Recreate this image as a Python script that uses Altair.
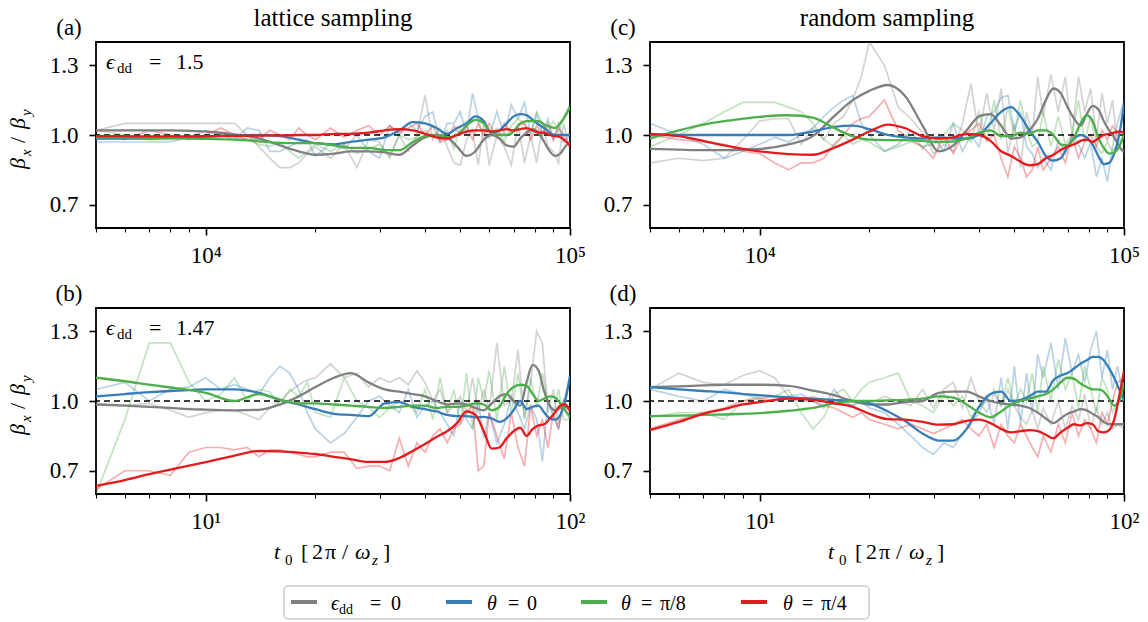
import altair as alt
import pandas as pd

# ---------------- data ----------------
SERIES_KEYS = ["s0", "s1", "s2", "s3"]          # eps_dd=0, theta=0, theta=pi/8, theta=pi/4
SERIES_COLORS = ["#808080", "#377eb8", "#4daf4a", "#e41a1c"]

TOP_RAW_T = [5000, 6000, 7000, 8000, 9000, 10000, 11000, 12000, 13000, 14000, 15000, 16000,
             17000, 18000, 19000, 20000,
             22000, 24000, 26000, 28000, 30000, 32000, 34000, 36000, 38000, 40000, 42000, 44000,
             46000, 48000, 50000, 52000, 54000, 56000, 58000, 60000,
             63000, 66000, 69000, 72000, 75000, 78000, 81000, 84000, 87000, 90000, 93000, 96000,
             100000]
BOT_RAW_T = [5, 6, 7, 8, 9, 10, 11, 12, 13, 14, 15, 16, 17, 18, 19, 20,
             22, 24, 26, 28, 30, 32, 34, 36, 38, 40, 42, 44, 46, 48, 50, 52, 54, 56, 58, 60,
             63, 66, 69, 72, 75, 78, 81, 84, 87, 90, 93, 96,
             100]
TOP_SMOOTH_T = [5000, 6000, 7000, 8000, 9000, 10000, 12000, 14000, 16000, 18000, 20000,
                22500, 25000, 28000,
                31000, 34000, 37000, 40000, 43000, 46000, 49000, 52000, 55000, 58000, 61000, 64000,
                67000, 70000, 73000, 76000, 79000, 82000, 85000, 88000, 91000, 94000, 97000, 100000]
BOT_SMOOTH_T = [5, 6, 7, 8, 9, 10, 12, 14, 16, 18, 20,
                22.5, 25, 28,
                31, 34, 37, 40, 43, 46, 49, 52, 55, 58, 61, 64,
                67, 70, 73, 76, 79, 82, 85, 88, 91, 94, 97, 100]

# ----- panel (a): lattice sampling, eps_dd = 1.5 -----
A_RAW_EPS0 = [1.02, 1.05, 1.05, 1.05, 1.05, 1.05, 1.05, 1.05, 1.0, 0.95, 0.90, 0.86, 0.86, 0.88, 0.92, 0.95,
              0.90, 0.96, 0.86, 0.98, 0.97, 0.90, 1.0, 0.93, 1.0, 1.17, 0.98, 1.03, 0.95, 0.88, 0.87, 0.98, 1.02, 0.87, 1.05, 0.87,
              1.0, 0.95, 0.87, 1.05, 0.88, 1.0, 0.88, 1.05, 0.95, 0.93, 0.88, 1.05,
              0.93]
A_RAW_TH0 = [0.97, 0.97, 0.97, 0.97, 0.99, 1.02, 1.0, 0.98, 1.03, 1.02, 0.93, 0.93, 0.95, 0.97, 0.98, 0.91,
             0.96, 0.94, 1.0, 0.93, 0.90, 1.04, 1.0, 1.05, 1.02, 1.08, 1.1, 0.97, 1.05, 1.05, 1.10, 1.0, 1.18, 1.07, 1.05, 0.99,
             1.1, 1.0, 1.13, 1.07, 1.14, 1.0, 1.09, 1.0, 1.07, 0.98, 1.05, 0.97,
             1.0]
A_RAW_TH8 = [1.02, 1.0, 0.98, 0.98, 0.99, 0.99, 1.0, 0.99, 0.98, 0.96, 0.95, 0.97, 0.93, 0.90, 0.93, 0.96,
             0.93, 0.96, 0.92, 0.94, 0.96, 0.91, 1.0, 0.98, 0.99, 1.02, 1.0, 0.98, 1.02, 0.94, 1.03, 1.06, 1.06, 1.07, 0.98, 1.0,
             1.03, 0.97, 1.04, 1.07, 1.05, 1.01, 1.1, 1.05, 1.02, 1.06, 1.01, 1.08,
             1.13]
A_RAW_TH4 = [1.0, 0.98, 1.02, 1.0, 0.98, 1.0, 1.03, 1.0, 0.98, 0.98, 1.02, 1.0, 0.98, 1.03, 1.0, 0.98,
             1.03, 0.99, 1.02, 1.04, 1.0, 1.04, 1.01, 1.03, 1.05, 1.0, 1.04, 0.97, 0.98, 1.04, 1.0, 1.04, 0.98, 1.05, 1.0, 1.05,
             0.99, 1.05, 1.01, 1.04, 1.05, 0.98, 1.04, 1.0, 1.05, 0.98, 1.03, 1.0,
             0.95]
A_SM_EPS0 = [1.02, 1.02, 1.02, 1.02, 1.018, 1.015, 1.003, 0.985, 0.955, 0.93, 0.915,
             0.92, 0.93, 0.93,
             0.925, 0.915, 0.955, 0.99, 1.0, 0.99, 0.95, 0.91, 0.93, 0.98, 1.0, 0.985,
             0.955, 0.95, 0.985, 1.01, 1.025, 1.01, 0.97, 0.93, 0.91, 0.92, 0.95, 0.97]
A_SM_TH0 = [0.985, 0.985, 0.985, 0.988, 0.99, 0.993, 0.998, 1.0, 0.995, 0.98, 0.965,
            0.96, 0.97, 0.98,
            0.99, 1.02, 1.055, 1.05, 1.03, 1.005, 1.03, 1.05, 1.08, 1.06, 1.005, 1.02,
            1.05, 1.08, 1.09, 1.085, 1.065, 1.045, 1.03, 1.01, 1.0, 1.0, 1.0, 1.0]
A_SM_TH8 = [0.99, 0.99, 0.988, 0.986, 0.985, 0.983, 0.98, 0.973, 0.966, 0.965, 0.965,
            0.955, 0.945, 0.945,
            0.935, 0.935, 0.97, 0.995, 1.0, 0.99, 1.0, 1.04, 1.065, 1.05, 1.01, 1.0,
            1.0, 1.015, 1.05, 1.06, 1.06, 1.06, 1.045, 1.035, 1.03, 1.05, 1.08, 1.12]
A_SM_TH4 = [0.995, 0.995, 0.994, 0.994, 0.994, 0.995, 0.996, 0.997, 0.998, 1.0, 1.0,
            1.005, 1.005, 1.01,
            1.02, 1.025, 1.02, 1.005, 0.99, 0.985, 1.0, 1.015, 1.02, 1.02, 1.015, 1.02,
            1.025, 1.02, 1.025, 1.03, 1.02, 1.01, 1.01, 1.0, 0.995, 0.99, 0.975, 0.955]

# ----- panel (c): random sampling, eps_dd = 1.5 -----
C_RAW_EPS0 = [0.88, 0.90, 0.89, 0.90, 0.98, 1.06, 1.07, 1.07, 0.96, 1.03, 0.98, 1.05, 1.08, 1.15, 1.25, 1.40,
              1.30, 1.12, 1.07, 1.01, 0.92, 0.96, 0.93, 1.05, 1.22, 1.0, 1.18, 1.02, 1.2, 0.92, 1.05, 0.86, 1.1, 1.0, 1.25, 1.08,
              1.26, 1.1, 1.25, 1.0, 1.25, 1.1, 1.2, 0.98, 1.18, 1.05, 1.15, 0.95,
              0.92]
C_RAW_TH0 = [1.05, 1.0, 0.96, 0.9, 0.93, 0.96, 0.99, 0.97, 1.0, 1.03, 1.08, 1.12, 1.15, 1.17, 1.05, 1.0,
             0.93, 0.96, 1.02, 0.94, 0.99, 0.93, 1.05, 0.93, 1.0, 0.95, 1.08, 1.1, 1.16, 1.17, 1.02, 1.1, 0.95, 0.92, 0.86, 0.9,
             0.85, 0.98, 0.92, 1.0, 0.96, 0.9, 0.97, 0.82, 0.9, 0.8, 0.95, 1.05,
             1.15]
C_RAW_TH8 = [0.95, 1.0, 1.05, 1.1, 1.14, 1.14, 1.14, 1.12, 1.1, 1.05, 0.98, 0.95, 1.0, 0.96, 0.98, 0.97,
             0.93, 0.95, 0.97, 0.95, 0.96, 1.0, 1.05, 1.02, 0.97, 1.1, 0.97, 1.15, 0.98, 1.12, 1.0, 1.15, 1.02, 0.95, 0.97, 1.1,
             0.95, 1.08, 0.96, 1.0, 1.15, 0.97, 1.08, 0.95, 0.92, 0.97, 0.93, 0.96,
             1.0]
C_RAW_TH4 = [1.0, 0.98, 0.97, 0.96, 0.93, 0.92, 0.88, 0.85, 0.88, 0.88, 0.9, 0.96, 1.0, 1.05, 1.07, 1.08,
             1.15, 1.02, 0.98, 0.95, 0.9, 1.0, 0.92, 1.0, 1.02, 1.05, 0.98, 1.0, 0.9, 0.82, 0.95, 0.9, 0.82, 0.85, 0.95, 0.85,
             0.9, 0.95, 0.88, 1.0, 0.9, 0.97, 1.0, 0.95, 1.02, 0.98, 1.04, 1.0,
             1.0]
C_SM_EPS0 = [0.94, 0.937, 0.935, 0.935, 0.937, 0.94, 0.96, 0.995, 1.08, 1.15, 1.19,
             1.215, 1.17, 1.04,
             0.93, 0.955, 1.02, 1.08, 1.09, 1.04, 0.985, 0.99, 1.02, 1.07, 1.15, 1.2,
             1.18, 1.12, 1.07, 1.04, 1.09, 1.125, 1.11, 1.06, 1.02, 0.99, 0.95, 0.93]
C_SM_TH0 = [1.0, 1.0, 1.0, 1.0, 1.0, 1.0, 1.0, 1.015, 1.035, 1.04, 1.025,
            1.0, 0.99, 0.985,
            0.99, 0.985, 0.985, 1.0, 1.05, 1.1, 1.12, 1.08, 1.02, 0.97, 0.91, 0.89,
            0.9, 0.95, 0.985, 1.0, 0.99, 0.96, 0.91, 0.875, 0.88, 0.92, 1.0, 1.13]
C_SM_TH8 = [0.985, 1.02, 1.045, 1.06, 1.07, 1.078, 1.085, 1.075, 1.03, 0.995, 0.98,
            0.978, 0.978, 0.975,
            0.97, 0.972, 0.985, 1.01, 1.02, 0.995, 0.995, 1.01, 1.005, 1.02, 1.02, 1.0,
            0.96, 0.955, 0.99, 1.05, 1.085, 1.06, 0.99, 0.945, 0.92, 0.925, 0.95, 1.0]
C_SM_TH4 = [1.005, 0.995, 0.975, 0.955, 0.94, 0.93, 0.918, 0.915, 0.945, 0.98, 1.015,
            1.045, 1.03, 0.995,
            0.985, 0.99, 1.005, 1.0, 0.975, 0.93, 0.91, 0.885, 0.87, 0.875, 0.9, 0.915,
            0.935, 0.95, 0.96, 0.975, 0.98, 0.97, 0.985, 1.0, 1.005, 1.01, 1.015, 1.01]

# ----- panel (b): lattice sampling, eps_dd = 1.47 -----
B_RAW_EPS0 = [0.99, 0.98, 0.99, 0.96, 0.93, 0.95, 0.96, 0.96, 0.94, 0.92, 0.97, 1.0, 1.04, 1.07, 1.09, 1.1,
              1.16, 1.1, 1.12, 1.06, 1.1, 1.08, 1.1, 1.07, 1.13, 1.08, 1.0, 1.05, 0.95, 0.98, 1.02, 0.95, 1.1, 0.95, 1.05, 0.96,
              1.25, 0.98, 1.0, 1.22, 0.92, 1.08, 1.3, 1.25, 0.95, 1.05, 0.9, 1.0,
              0.95]
B_RAW_TH0 = [1.05, 1.08, 1.0, 1.05, 1.06, 1.1, 1.05, 1.07, 1.05, 1.03, 1.1, 1.15, 1.12, 1.05, 0.95, 0.88,
             0.82, 0.86, 0.93, 1.0, 1.02, 0.98, 0.95, 1.05, 0.93, 0.98, 1.0, 0.95, 0.9, 0.85, 1.0, 0.92, 0.88, 1.0, 0.84, 0.95,
             0.82, 0.9, 1.02, 0.95, 0.88, 0.98, 0.92, 0.74, 1.0, 0.93, 0.88, 1.0,
             1.1]
B_RAW_TH8 = [0.6, 0.92, 1.25, 1.25, 1.08, 1.0, 1.03, 1.1, 1.0, 1.05, 1.04, 0.98, 1.05, 1.02, 1.08, 0.95,
             0.93, 1.1, 1.0, 0.97, 0.93, 0.97, 1.0, 0.98, 0.95, 1.05, 0.92, 1.1, 0.95, 1.05, 0.9, 1.12, 0.88, 1.1, 1.0, 1.13,
             0.92, 1.15, 0.95, 1.12, 0.93, 1.1, 0.97, 1.12, 1.0, 0.95, 1.05, 0.92,
             0.92]
B_RAW_TH4 = [0.62, 0.70, 0.70, 0.68, 0.78, 0.80, 0.80, 0.79, 0.80, 0.76, 0.79, 0.79, 0.78, 0.77, 0.76, 0.76,
             0.78, 0.78, 0.71, 0.72, 0.72, 0.70, 0.84, 0.72, 0.82, 0.78, 0.85, 0.88, 0.82, 0.88, 0.9, 0.95, 0.98, 0.70, 0.72, 0.95,
             0.85, 0.75, 0.95, 0.80, 0.72, 0.98, 0.85, 0.92, 0.80, 0.95, 0.88, 1.0,
             0.95]
B_SM_EPS0 = [0.985, 0.98, 0.975, 0.97, 0.965, 0.963, 0.96, 0.962, 0.985, 1.02, 1.06,
             1.1, 1.12, 1.08,
             1.05, 1.04, 1.03, 1.02, 1.0, 0.985, 0.99, 0.985, 0.97, 0.96, 0.99, 1.02,
             1.03, 1.0, 0.98, 1.08, 1.155, 1.13, 1.04, 0.98, 0.96, 0.97, 0.975, 0.96]
B_SM_TH0 = [1.02, 1.03, 1.038, 1.043, 1.047, 1.05, 1.05, 1.035, 1.005, 0.985, 0.965,
            0.945, 0.94, 0.935,
            0.99, 0.995, 0.975, 0.965, 0.955, 0.94, 0.935, 0.935, 0.93, 0.932, 0.925, 0.91,
            0.925, 0.96, 1.0, 0.965, 0.975, 0.98, 0.95, 0.925, 0.92, 0.94, 1.0, 1.11]
B_SM_TH8 = [1.1, 1.085, 1.07, 1.058, 1.048, 1.035, 1.0, 1.03, 1.005, 0.99, 0.99,
            0.985, 0.98, 0.975,
            0.97, 0.975, 0.98, 0.98, 0.97, 0.975, 0.975, 0.98, 0.99, 0.985, 0.96, 0.975,
            1.03, 1.06, 1.07, 1.065, 1.03, 1.0, 1.01, 1.02, 1.015, 0.99, 0.96, 0.93]
B_SM_TH4 = [0.635, 0.66, 0.685, 0.705, 0.722, 0.737, 0.765, 0.785, 0.783, 0.778, 0.772,
            0.76, 0.75, 0.738,
            0.738, 0.755, 0.785, 0.815, 0.845, 0.87, 0.905, 0.955, 0.94, 0.87, 0.795, 0.8,
            0.84, 0.87, 0.885, 0.85, 0.88, 0.895, 0.9, 0.925, 0.95, 0.98, 0.985, 0.96]

# ----- panel (d): random sampling, eps_dd = 1.47 -----
D_RAW_EPS0 = [1.05, 1.12, 1.08, 1.07, 1.11, 1.13, 1.1, 1.02, 1.0, 1.02, 1.0, 1.0, 0.99, 0.98, 1.0, 0.99,
              1.02, 1.0, 0.98, 1.05, 0.97, 1.05, 1.08, 0.97, 1.1, 1.0, 0.95, 1.03, 0.98, 1.05, 0.98, 0.93, 0.9, 0.96, 0.88, 0.97,
              0.9, 1.0, 0.88, 0.98, 0.92, 1.03, 0.88, 0.97, 0.9, 0.95, 0.88, 0.9,
              0.88]
D_RAW_TH0 = [1.05, 1.02, 1.0, 1.05, 1.03, 1.01, 1.0, 1.02, 1.03, 1.0, 0.97, 1.05, 1.0, 0.98, 1.0, 0.97,
             0.95, 0.9, 0.85, 0.8, 0.77, 0.82, 0.8, 0.86, 0.9, 0.95, 1.02, 0.9, 1.1, 0.88, 1.15, 0.9, 1.12, 0.95, 1.2, 1.1,
             1.25, 1.05, 1.27, 1.12, 1.2, 1.08, 1.22, 1.3, 1.1, 1.22, 1.05, 1.15,
             1.0]
D_RAW_TH8 = [0.93, 0.95, 0.95, 0.92, 1.0, 1.02, 1.02, 1.05, 0.95, 0.88, 0.93, 1.03, 1.05, 1.0, 1.05, 1.08,
             1.1, 1.12, 1.0, 0.98, 0.95, 1.03, 0.98, 1.02, 0.93, 0.97, 1.0, 1.05, 0.98, 1.1, 0.98, 1.05, 1.0, 1.12, 0.95, 1.15,
             1.0, 1.18, 1.05, 1.12, 0.97, 1.15, 1.05, 0.95, 1.1, 1.05, 0.95, 1.0,
             1.08]
D_RAW_TH4 = [0.88, 0.92, 0.95, 0.97, 1.0, 1.01, 1.02, 1.01, 1.0, 1.0, 0.98, 0.97, 0.95, 0.93, 0.95, 0.92,
             0.9, 0.88, 0.9, 0.88, 0.86, 0.88, 0.9, 0.92, 0.88, 0.85, 0.9, 0.8, 0.9, 0.85, 0.82, 0.9, 0.85, 0.8, 0.76, 0.85,
             0.78, 0.9, 0.82, 0.95, 0.85, 0.92, 0.88, 0.82, 0.95, 0.9, 1.0, 1.08,
             1.1]
D_SM_EPS0 = [1.06, 1.063, 1.067, 1.07, 1.07, 1.07, 1.065, 1.045, 1.025, 1.0, 0.985,
             0.985, 0.995, 1.0,
             1.035, 1.04, 1.04, 1.02, 1.0, 0.99, 0.985, 0.98, 0.97, 0.95, 0.925, 0.905,
             0.925, 0.945, 0.955, 0.965, 0.96, 0.945, 0.93, 0.91, 0.9, 0.9, 0.9, 0.9]
D_SM_TH0 = [1.06, 1.05, 1.043, 1.037, 1.03, 1.025, 1.015, 1.01, 1.005, 1.0, 0.99,
            0.955, 0.915, 0.86,
            0.83, 0.83, 0.88, 0.975, 1.03, 1.04, 1.0, 1.005, 1.02, 1.04, 1.04, 1.09,
            1.11, 1.12, 1.14, 1.16, 1.175, 1.19, 1.19, 1.175, 1.14, 1.1, 1.05, 1.0]
D_SM_TH8 = [0.935, 0.937, 0.94, 0.942, 0.945, 0.948, 0.958, 0.97, 0.99, 1.0, 1.0,
            1.003, 1.005, 1.01,
            1.02, 1.015, 0.985, 0.95, 0.93, 0.955, 0.985, 1.0, 1.01, 1.02, 1.03, 1.05,
            1.08, 1.1, 1.095, 1.075, 1.06, 1.05, 1.05, 1.04, 1.01, 0.98, 1.0, 1.08]
D_SM_TH4 = [0.875, 0.91, 0.945, 0.965, 0.985, 0.995, 1.01, 1.005, 0.99, 0.975, 0.945,
            0.922, 0.92, 0.91,
            0.898, 0.9, 0.915, 0.92, 0.905, 0.88, 0.865, 0.87, 0.875, 0.87, 0.855, 0.84,
            0.865, 0.885, 0.9, 0.895, 0.905, 0.9, 0.87, 0.865, 0.875, 0.92, 1.02, 1.13]

Y_TICKS = [0.7, 1.0, 1.3]
TOP_X_TICKS = [5000, 6000, 7000, 8000, 9000, 10000, 20000, 30000, 40000, 50000, 60000,
               70000, 80000, 90000, 100000]
BOT_X_TICKS = [5, 6, 7, 8, 9, 10, 20, 30, 40, 50, 60, 70, 80, 90, 100]

# ---------------- helpers ----------------
FONT = "Liberation Serif"
W, H = 474, 186


def one():
    return pd.DataFrame({"k": [0]})


def txt(s, x, y, size=22, italic=False, align="left", angle=0):
    kw = dict(text=s, font=FONT, fontSize=size, fontStyle="italic" if italic else "normal",
              align=align, baseline="alphabetic", color="black")
    if angle:
        kw["angle"] = angle
    return alt.Chart(one()).mark_text(**kw).encode(x=alt.value(x), y=alt.value(y))


def long_df(ts, arrays):
    rows = []
    for key, arr in zip(SERIES_KEYS, arrays):
        assert len(arr) == len(ts), (key, len(arr), len(ts))
        rows += [{"t": t, "v": v, "s": key} for t, v in zip(ts, arr)]
    return pd.DataFrame(rows)


def panel(raw_t, raws, sm_t, sms, dom, ticks, majors, major_labels):
    test = " || ".join(f"datum.value == {m}" for m in majors)
    lab = f"datum.value == {majors[0]} ? '{major_labels[0]}' : (datum.value == {majors[1]} ? '{major_labels[1]}' : '')"
    xax = alt.Axis(values=ticks, labelExpr=lab, title=None, grid=False, domain=False,
                   tickColor="black",
                   tickSize={"condition": {"test": test, "value": 7}, "value": 4},
                   tickWidth={"condition": {"test": test, "value": 1.6}, "value": 1.1},
                   labelFont=FONT, labelFontSize=23, labelColor="black", labelPadding=9,
                   labelOverlap=False, labelFlush=False)
    yax = alt.Axis(values=Y_TICKS, format=".1f", title=None, grid=False, domain=False,
                   tickColor="black", tickSize=7, tickWidth=1.6,
                   labelFont=FONT, labelFontSize=23, labelColor="black", labelPadding=11)
    xs = alt.Scale(type="log", domain=dom, nice=False)
    ys = alt.Scale(domain=[0.6, 1.4], nice=False, zero=False)
    cs = alt.Scale(domain=SERIES_KEYS, range=SERIES_COLORS)

    raw = alt.Chart(long_df(raw_t, raws)).mark_line(strokeWidth=1.7, opacity=0.35, clip=True).encode(
        x=alt.X("t:Q", scale=xs, axis=xax),
        y=alt.Y("v:Q", scale=ys, axis=yax),
        color=alt.Color("s:N", scale=cs, legend=None),
    )
    ref = alt.Chart(one()).mark_rule(color="black", strokeDash=[6, 4], strokeWidth=1.7).encode(
        y=alt.datum(1.0))
    sm = alt.Chart(long_df(sm_t, sms)).mark_line(strokeWidth=2.3, interpolate="monotone", clip=True).encode(
        x=alt.X("t:Q", scale=xs, axis=xax),
        y=alt.Y("v:Q", scale=ys, axis=yax),
        color=alt.Color("s:N", scale=cs, legend=None),
    )
    return [raw, ref, sm]


def ytitle():
    return [
        txt("β", -71, 127, italic=True, angle=270),
        txt("x", -65, 114, size=15, italic=True, angle=270),
        txt("/", -71, 101, angle=270),
        txt("β", -71, 87, italic=True, angle=270),
        txt("y", -65, 74, size=15, italic=True, angle=270),
    ]


def eps_label(val):
    return [
        txt("ϵ", 10, 27, italic=True),
        txt("dd", 21, 31, size=15),
        txt("=", 53, 27),
        txt(val, 80, 27),
    ]


def xtitle():
    return [
        txt("t", 178, 251, italic=True),
        txt("0", 189, 257, size=15),
        txt("[", 205, 251),
        txt("2", 216, 251),
        txt("π", 229, 251),
        txt("/", 246, 251),
        txt("ω", 259, 251, italic=True),
        txt("z", 276, 257, size=15, italic=True),
        txt("]", 287, 251),
    ]


def legend():
    items = [
        alt.Chart(one()).mark_rect(fill="white", stroke="#cccccc", strokeWidth=1.5, cornerRadius=4).encode(
            x=alt.value(188), x2=alt.value(773), y=alt.value(278), y2=alt.value(311)),
    ]
    line_x = [195, 350, 485, 645]
    for lx, col in zip(line_x, SERIES_COLORS):
        items.append(alt.Chart(one()).mark_rule(color=col, strokeWidth=4).encode(
            x=alt.value(lx), x2=alt.value(lx + 26), y=alt.value(294)))
    yb = 302
    items += [
        txt("ϵ", 235, yb, size=20, italic=True), txt("dd", 243, yb + 4, size=14), txt("=", 274, yb, size=20),
        txt("0", 295, yb, size=20),
        txt("θ", 391, yb, size=20, italic=True), txt("=", 412, yb, size=20), txt("0", 431, yb, size=20),
        txt("θ", 525, yb, size=20, italic=True), txt("=", 545, yb, size=20), txt("π/8", 564, yb, size=20),
        txt("θ", 687, yb, size=20, italic=True), txt("=", 706, yb, size=20), txt("π/4", 725, yb, size=20),
    ]
    return items


TOP_MAJ = [10000, 100000]
BOT_MAJ = [10, 100]

pa = alt.layer(
    *panel(TOP_RAW_T, [A_RAW_EPS0, A_RAW_TH0, A_RAW_TH8, A_RAW_TH4], TOP_SMOOTH_T,
           [A_SM_EPS0, A_SM_TH0, A_SM_TH8, A_SM_TH4], [5000, 100000], TOP_X_TICKS, TOP_MAJ, ["10⁴", "10⁵"]),
    txt("(a)", -27, -7, size=23, align="center"),
    txt("lattice sampling", W / 2, -16, size=25, align="center"),
    *eps_label("1.5"),
    *ytitle(),
).properties(width=W, height=H)

pc = alt.layer(
    *panel(TOP_RAW_T, [C_RAW_EPS0, C_RAW_TH0, C_RAW_TH8, C_RAW_TH4], TOP_SMOOTH_T,
           [C_SM_EPS0, C_SM_TH0, C_SM_TH8, C_SM_TH4], [5000, 100000], TOP_X_TICKS, TOP_MAJ, ["10⁴", "10⁵"]),
    txt("(c)", -27, -7, size=23, align="center"),
    txt("random sampling", W / 2, -16, size=25, align="center"),
).properties(width=W, height=H)

pb = alt.layer(
    *panel(BOT_RAW_T, [B_RAW_EPS0, B_RAW_TH0, B_RAW_TH8, B_RAW_TH4], BOT_SMOOTH_T,
           [B_SM_EPS0, B_SM_TH0, B_SM_TH8, B_SM_TH4], [5, 100], BOT_X_TICKS, BOT_MAJ, ["10¹", "10²"]),
    txt("(b)", -27, -7, size=23, align="center"),
    *eps_label("1.47"),
    *ytitle(),
    *xtitle(),
    *legend(),
).properties(width=W, height=H)

pd_ = alt.layer(
    *panel(BOT_RAW_T, [D_RAW_EPS0, D_RAW_TH0, D_RAW_TH8, D_RAW_TH4], BOT_SMOOTH_T,
           [D_SM_EPS0, D_SM_TH0, D_SM_TH8, D_SM_TH4], [5, 100], BOT_X_TICKS, BOT_MAJ, ["10¹", "10²"]),
    txt("(d)", -27, -7, size=23, align="center"),
    *xtitle(),
).properties(width=W, height=H)

chart = alt.concat(pa, pc, pb, pd_, columns=2, spacing=80, bounds="flush").properties(
    padding={"left": 6, "top": 5, "right": 5, "bottom": 2},
    background="white",
).configure_view(stroke="black", strokeWidth=1.8)

chart.save("out.html", embed_options={"renderer": "svg", "actions": False})
